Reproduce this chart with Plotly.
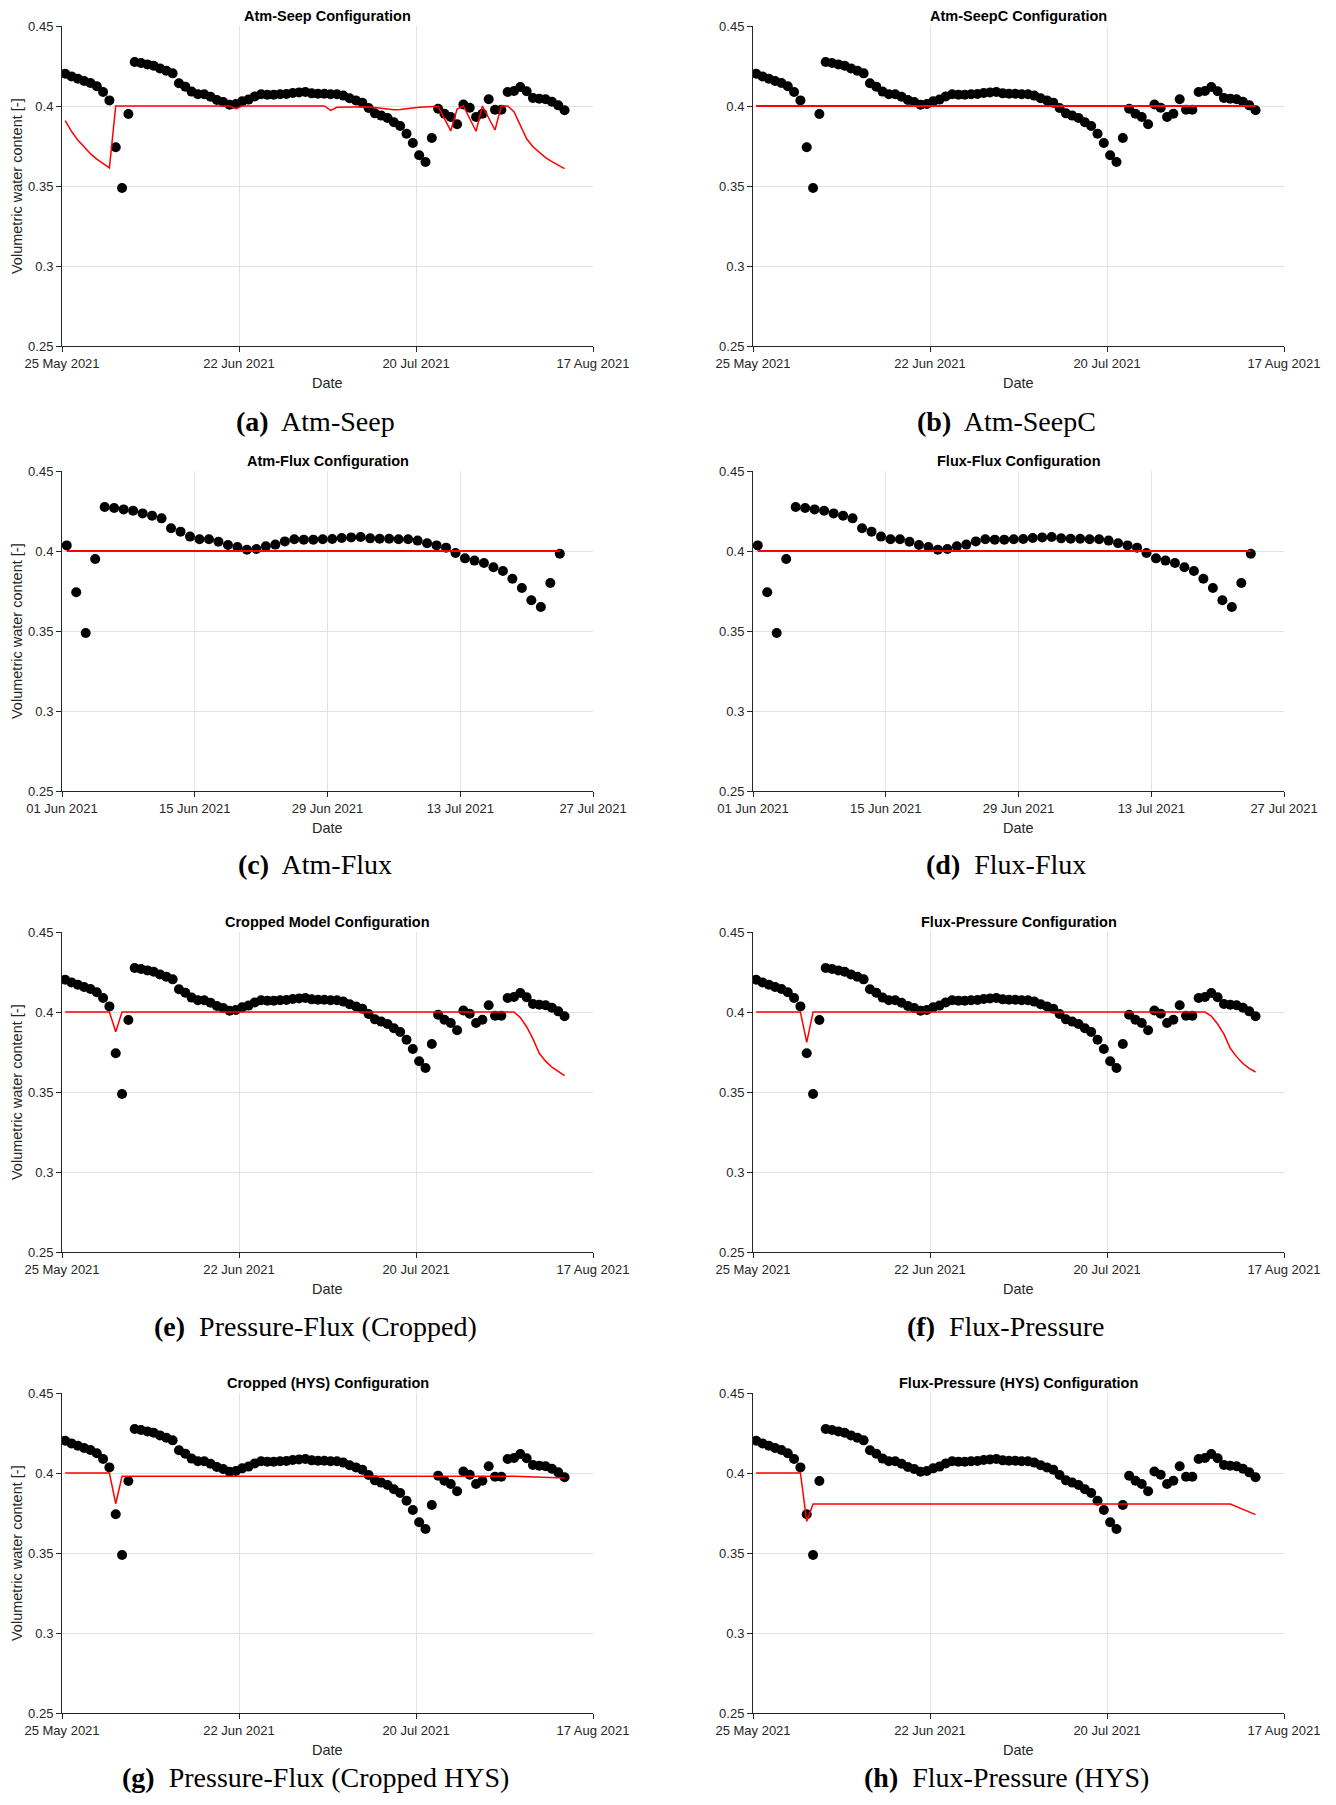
import pandas as pd
import plotly.graph_objects as go

# ---------------- data ----------------
obs_start = "2021-05-25 12:00"   # first daily measurement
obs_vwc = [0.4202, 0.4185, 0.4171, 0.4156, 0.4144, 0.4123, 0.4088,
           0.4035, 0.3742, 0.3488, 0.3950, 0.4275, 0.4269, 0.4260, 0.4252, 0.4235, 0.4221, 0.4204,
           0.4142, 0.4121, 0.4090, 0.4073, 0.4073, 0.4058, 0.4038, 0.4025, 0.4008, 0.4013,
           0.4029, 0.4040, 0.4060, 0.4073, 0.4071, 0.4071, 0.4073,
           0.4075, 0.4081, 0.4085, 0.4088, 0.4079, 0.4077, 0.4077, 0.4073, 0.4073, 0.4065,
           0.4048, 0.4035, 0.4021, 0.3988, 0.3954, 0.3940, 0.3925, 0.3898, 0.3875, 0.3827,
           0.3769, 0.3692, 0.3650, 0.3800, 0.3983,
           0.3952, 0.3931, 0.3886, 0.4009, 0.3989, 0.3931, 0.3952, 0.4042, 0.3977, 0.3977,
           0.4088, 0.4094, 0.4119, 0.4092, 0.4050, 0.4046, 0.4042, 0.4027, 0.4004, 0.3973]

# model (red line) vertices for each configuration
seep_dates = ["2021-05-25 12:00", "2021-05-26 12:00", "2021-05-27 12:00", "2021-05-28 12:00",
              "2021-05-29 12:00", "2021-05-30 12:00", "2021-05-31 12:00", "2021-06-01 12:00",
              "2021-06-02 12:00", "2021-06-20 12:00", "2021-06-21 12:00", "2021-06-22 12:00",
              "2021-07-05 12:00", "2021-07-06 12:00", "2021-07-07 12:00", "2021-07-12 12:00",
              "2021-07-16 12:00", "2021-07-17 12:00", "2021-07-20 12:00", "2021-07-23 12:00",
              "2021-07-25 12:00", "2021-07-26 12:00", "2021-07-27 12:00", "2021-07-29 12:00",
              "2021-07-30 12:00", "2021-08-01 12:00", "2021-08-02 12:00", "2021-08-03 12:00",
              "2021-08-04 12:00", "2021-08-05 12:00", "2021-08-06 12:00", "2021-08-07 12:00",
              "2021-08-08 12:00", "2021-08-09 12:00", "2021-08-10 12:00", "2021-08-11 12:00",
              "2021-08-12 12:00"]
seep_vwc = [0.3908, 0.3842, 0.3787, 0.3741, 0.3702, 0.3668, 0.3639, 0.3613,
            0.4000, 0.4000, 0.3983, 0.4000,
            0.4000, 0.3973, 0.3992, 0.3996,
            0.3977, 0.3978, 0.3992, 0.3998,
            0.3844, 0.3981, 0.4000, 0.3842,
            0.4000, 0.3850, 0.4000, 0.4000,
            0.3965, 0.3880, 0.3795, 0.3745,
            0.3708, 0.3677, 0.3652, 0.3628,
            0.3609]

seepc_dates = ["2021-05-25 12:00", "2021-08-12 12:00"]
seepc_vwc = [0.4000, 0.4000]

atmflux_dates = ["2021-06-01 12:00", "2021-07-23 12:00"]
atmflux_vwc = [0.4000, 0.4000]

fluxflux_dates = ["2021-06-01 12:00", "2021-07-23 12:00"]
fluxflux_vwc = [0.4000, 0.4000]

cropped_dates = ["2021-05-25 12:00", "2021-06-01 12:00", "2021-06-02 12:00", "2021-06-03 12:00",
                 "2021-08-04 12:00", "2021-08-05 12:00", "2021-08-06 12:00", "2021-08-07 12:00",
                 "2021-08-08 12:00", "2021-08-09 12:00", "2021-08-10 12:00", "2021-08-11 12:00",
                 "2021-08-12 12:00"]
cropped_vwc = [0.4000, 0.4000, 0.3877, 0.4000,
               0.4000, 0.3965, 0.3908, 0.3832,
               0.3742, 0.3693, 0.3655, 0.3627,
               0.3602]

fluxpres_dates = ["2021-05-25 12:00", "2021-06-01 12:00", "2021-06-02 12:00", "2021-06-03 12:00",
                  "2021-08-04 12:00", "2021-08-05 12:00", "2021-08-06 12:00", "2021-08-07 12:00",
                  "2021-08-08 12:00", "2021-08-09 12:00", "2021-08-10 12:00", "2021-08-11 12:00",
                  "2021-08-12 12:00"]
fluxpres_vwc = [0.4000, 0.4000, 0.3810, 0.4000,
                0.4000, 0.3975, 0.3925, 0.3862,
                0.3773, 0.3721, 0.3678, 0.3648,
                0.3625]

croppedhys_dates = ["2021-05-25 12:00", "2021-06-01 12:00", "2021-06-02 12:00", "2021-06-03 12:00",
                    "2021-08-04 12:00", "2021-08-12 12:00"]
croppedhys_vwc = [0.4000, 0.4000, 0.3808, 0.3979, 0.3979, 0.3969]

fluxpreshys_dates = ["2021-05-25 12:00", "2021-06-01 12:00", "2021-06-02 12:00", "2021-06-03 12:00",
                     "2021-08-08 12:00", "2021-08-12 12:00"]
fluxpreshys_vwc = [0.4000, 0.4000, 0.3698, 0.3806, 0.3806, 0.3740]

long_range = ["2021-05-25", "2021-08-17"]
long_ticks = ["2021-05-25", "2021-06-22", "2021-07-20", "2021-08-17"]
short_range = ["2021-06-01", "2021-07-27"]
short_ticks = ["2021-06-01", "2021-06-15", "2021-06-29", "2021-07-13", "2021-07-27"]
y_ticks = [0.25, 0.3, 0.35, 0.4, 0.45]
y_ticktext = ["0.25", "0.3", "0.35", "0.4", "0.45"]

titles = ["Atm-Seep Configuration", "Atm-SeepC Configuration",
          "Atm-Flux Configuration", "Flux-Flux Configuration",
          "Cropped Model Configuration", "Flux-Pressure Configuration",
          "Cropped (HYS) Configuration", "Flux-Pressure (HYS) Configuration"]
caption_letters = ["(a)", "(b)", "(c)", "(d)", "(e)", "(f)", "(g)", "(h)"]
caption_names = ["Atm-Seep", "Atm-SeepC", "Atm-Flux", "Flux-Flux",
                 "Pressure-Flux (Cropped)", "Flux-Pressure",
                 "Pressure-Flux (Cropped HYS)", "Flux-Pressure (HYS)"]

# ---------------- layout helpers ----------------
# page coordinates (px) of the 1336x1805 window; the page body has an 8px margin
WIN_W, WIN_H = 1336, 1805
OFF = 8
W, H = WIN_W - 2 * OFF, WIN_H - 2 * OFF
col_px = [(62, 593), (753, 1284)]
row_px = [(26, 346), (471, 791), (932, 1252), (1393, 1713)]
caption_x = [315, 1006]
caption_y = [421, 865, 1326, 1777]

def px_x(x):
    return (x - OFF) / W

def px_y(y):
    return 1 - (y - OFF) / H

obs_dates = pd.date_range(obs_start, periods=len(obs_vwc), freq="D")
obs = pd.Series(obs_vwc, index=obs_dates)
obs_short = obs[(obs.index >= "2021-06-01") & (obs.index <= "2021-07-23 13:00")]

panels = [
    (seep_dates, seep_vwc, 1.5, "long"),
    (seepc_dates, seepc_vwc, 2.0, "long"),
    (atmflux_dates, atmflux_vwc, 2.0, "short"),
    (fluxflux_dates, fluxflux_vwc, 2.0, "short"),
    (cropped_dates, cropped_vwc, 1.5, "long"),
    (fluxpres_dates, fluxpres_vwc, 1.5, "long"),
    (croppedhys_dates, croppedhys_vwc, 1.5, "long"),
    (fluxpreshys_dates, fluxpreshys_vwc, 1.5, "long"),
]

TICK_FONT = dict(family="Liberation Sans, Arial, sans-serif", size=13, color="#262626")
LABEL_FONT = dict(family="Liberation Sans, Arial, sans-serif", size=14.5, color="#262626")
TITLE_FONT = dict(family="Liberation Sans, Arial, sans-serif", size=14.5, color="#000000")
CAP_FONT = dict(family="Liberation Serif, Times New Roman, serif", size=28, color="#000000")
GRID = "#e3e3e3"
AXIS = "#262626"

fig = go.Figure()
annotations = []
layout_axes = {}

for i, (mdates, mvals, lw, span) in enumerate(panels):
    r, c = divmod(i, 2)
    k = "" if i == 0 else str(i + 1)
    xa, ya = "x" + k, "y" + k
    x0, x1 = col_px[c]
    y0, y1 = row_px[r]
    data = obs if span == "long" else obs_short

    fig.add_trace(go.Scatter(
        x=data.index, y=data.values, mode="markers",
        marker=dict(color="black", size=10, line=dict(width=0)),
        xaxis=xa, yaxis=ya, showlegend=False, hoverinfo="x+y"))
    fig.add_trace(go.Scatter(
        x=pd.to_datetime(mdates), y=mvals, mode="lines",
        line=dict(color="#ff0000", width=lw),
        xaxis=xa, yaxis=ya, showlegend=False, hoverinfo="x+y"))

    layout_axes["xaxis" + k] = dict(
        domain=[px_x(x0), px_x(x1)], anchor=ya, type="date",
        range=long_range if span == "long" else short_range,
        tickvals=long_ticks if span == "long" else short_ticks,
        tickformat="%d %b %Y", tickfont=TICK_FONT,
        showgrid=True, gridcolor=GRID, gridwidth=1,
        showline=True, linecolor=AXIS, linewidth=1,
        ticks="outside", ticklen=5, tickcolor=AXIS, zeroline=False,
        automargin=False, fixedrange=True)
    layout_axes["yaxis" + k] = dict(
        domain=[px_y(y1), px_y(y0)], anchor=xa,
        range=[0.25, 0.45], tickvals=y_ticks, ticktext=y_ticktext,
        tickfont=TICK_FONT,
        showgrid=True, gridcolor=GRID, gridwidth=1,
        showline=True, linecolor=AXIS, linewidth=1,
        ticks="outside", ticklen=5, tickcolor=AXIS, zeroline=False,
        automargin=False, fixedrange=True)

    cx = (x0 + x1) / 2
    annotations.append(dict(text="<b>" + titles[i] + "</b>", x=px_x(cx), y=px_y(y0 - 10),
                            xref="paper", yref="paper", xanchor="center", yanchor="middle",
                            showarrow=False, font=TITLE_FONT))
    annotations.append(dict(text="Date", x=px_x(cx), y=px_y(y1 + 37),
                            xref="paper", yref="paper", xanchor="center", yanchor="middle",
                            showarrow=False, font=LABEL_FONT))
    if c == 0:
        annotations.append(dict(text="Volumetric water content [-]", x=px_x(17),
                                y=px_y((y0 + y1) / 2), textangle=-90,
                                xref="paper", yref="paper", xanchor="center", yanchor="middle",
                                showarrow=False, font=LABEL_FONT))
    annotations.append(dict(text="<b>" + caption_letters[i] + "</b>  " + caption_names[i],
                            x=px_x(caption_x[c]), y=px_y(caption_y[r]),
                            xref="paper", yref="paper", xanchor="center", yanchor="middle",
                            showarrow=False, font=CAP_FONT))

fig.update_layout(
    width=W, height=H,
    margin=dict(l=0, r=0, t=0, b=0, pad=0, autoexpand=False),
    paper_bgcolor="white", plot_bgcolor="white",
    annotations=annotations,
    **layout_axes)

fig.write_html("out.html")
